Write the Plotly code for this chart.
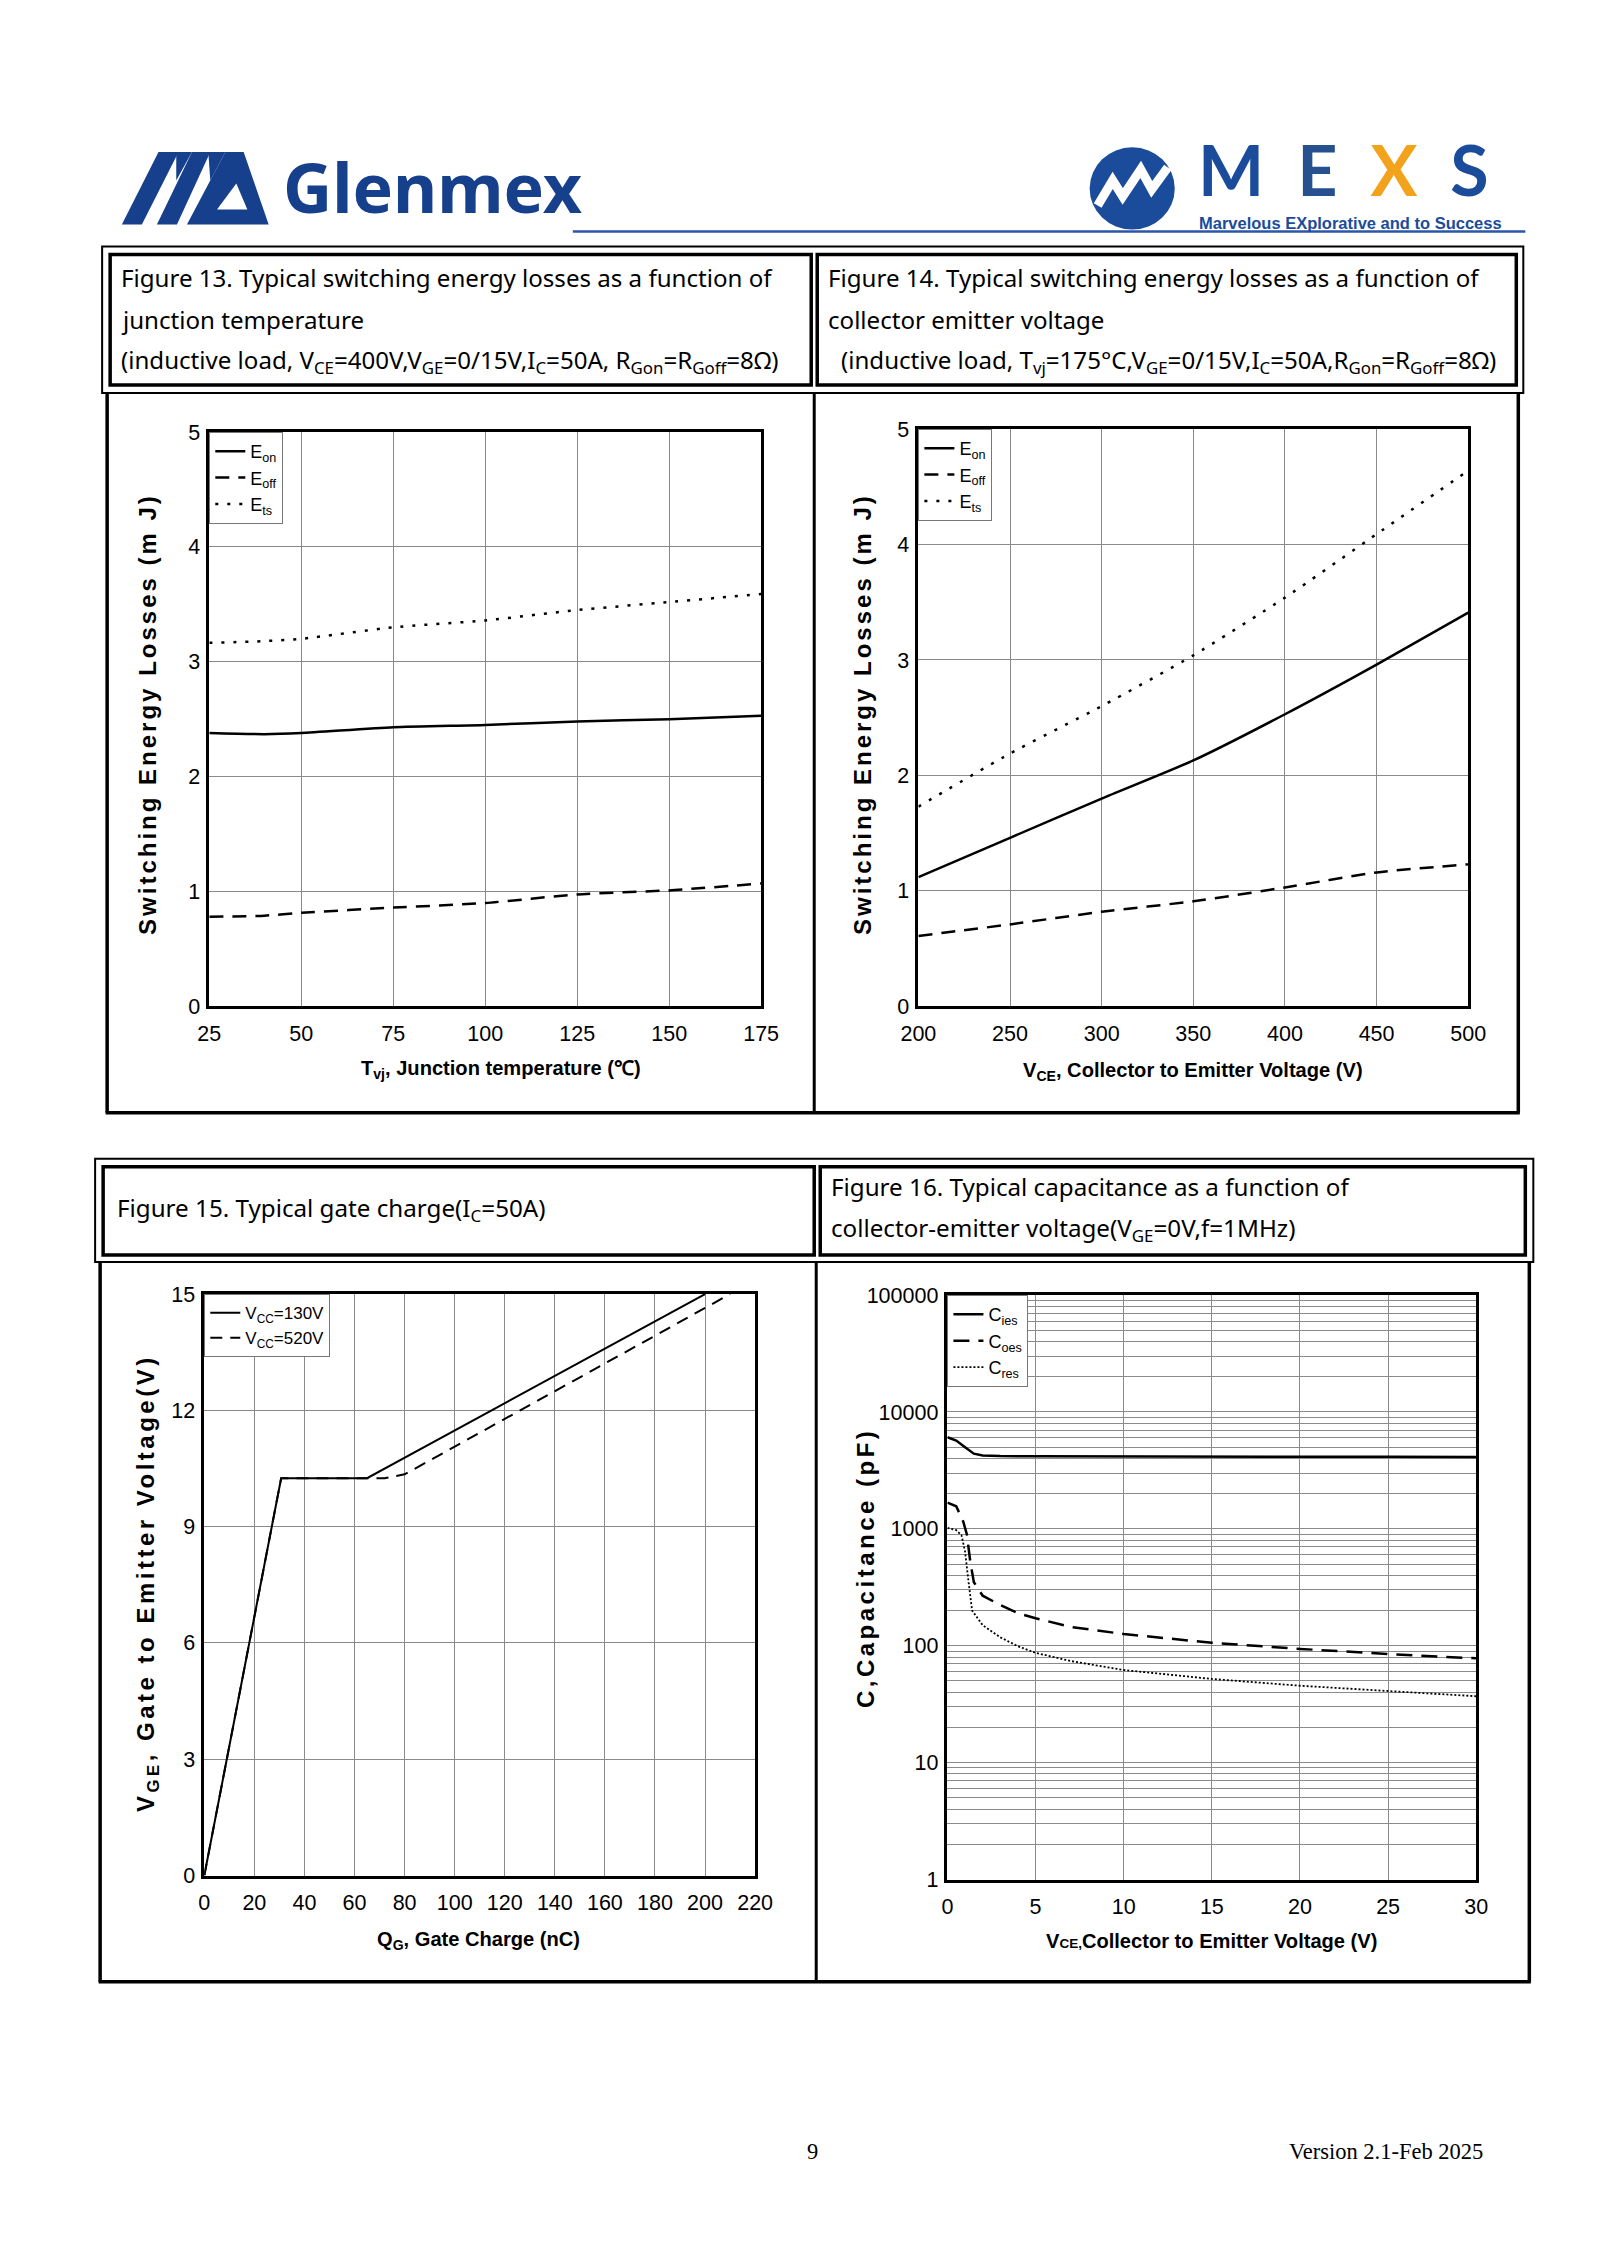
import plotly.graph_objects as go

W, H = 1600, 2263

# ---------------- data ----------------
# Figure 13: switching energy vs junction temperature
tvj = [25, 40, 50, 75, 100, 125, 150, 175]
eon_t = [2.38, 2.37, 2.38, 2.43, 2.45, 2.48, 2.50, 2.53]
eoff_t = [0.78, 0.79, 0.815, 0.86, 0.90, 0.975, 1.01, 1.07]
ets_t = [3.165, 3.18, 3.20, 3.30, 3.36, 3.45, 3.52, 3.59]

# Figure 14: switching energy vs collector-emitter voltage
vce = [200, 250, 300, 350, 400, 450, 500]
eon_v = [1.12, 1.46, 1.80, 2.13, 2.53, 2.96, 3.41]
eoff_v = [0.61, 0.71, 0.82, 0.91, 1.03, 1.16, 1.23]
ets_v = [1.73, 2.19, 2.60, 3.04, 3.54, 4.09, 4.64]

# Figure 15: gate charge
qg_130 = [0, 30.7, 65, 200]
vge_130 = [0, 10.25, 10.25, 15]
qg_520 = [0, 30.7, 72, 80, 210]
vge_520 = [0, 10.25, 10.25, 10.35, 15]

# Figure 16: capacitance
v_cies = [0, 0.5, 1, 1.5, 2, 3, 5, 10, 15, 20, 25, 30]
cies = [6080, 5700, 5000, 4400, 4250, 4200, 4180, 4150, 4150, 4140, 4140, 4130]
v_coes = [0, 0.5, 0.9, 1.1, 1.3, 1.5, 2, 3, 4, 5, 7, 10, 15, 20, 25, 30]
coes = [1680, 1560, 1150, 900, 520, 350, 268, 223, 190, 172, 145, 126, 106, 94, 85, 78]
v_cres = [0, 0.5, 0.8, 1.0, 1.2, 1.4, 2, 3, 4, 5, 7, 10, 15, 20, 25, 30]
cres = [1020, 975, 880, 640, 350, 200, 150, 118, 99, 87, 74, 62, 52, 45.5, 41, 37]

x13_ticks = [25, 50, 75, 100, 125, 150, 175]
y13_ticks = [0, 1, 2, 3, 4, 5]
x14_ticks = [200, 250, 300, 350, 400, 450, 500]
x15_ticks = list(range(0, 221, 20))
y15_ticks = [0, 3, 6, 9, 12, 15]
x16_ticks = [0, 5, 10, 15, 20, 25, 30]
y16_decades = [1, 10, 100, 1000, 10000, 100000]

# ---------------- helpers ----------------
# page positions below are reference pixels; the mapping compensates for the
# small inset/shrink observed in the rendered screenshot
AX_, BX_ = 0.976, 18.0
AY_, BY_ = 0.987, 12.0

def PX(x):
    return ((x - BX_) / AX_) / W

def PY(y):
    return 1 - ((y - BY_) / AY_) / H

TICKF = "Liberation Sans, Arial, sans-serif"
SANS = "Noto Sans, Open Sans, sans-serif"
ARIALB = "Liberation Sans, Arial, sans-serif"
SERIF = "Liberation Serif, Times New Roman, serif"
BLUE = "#163f8c"

fig = go.Figure()

def add(x, y, name, xa, ya, leg, dash, width=2.5, shape="spline"):
    fig.add_trace(go.Scatter(
        x=x, y=y, name=name, mode="lines", xaxis=xa, yaxis=ya, legend=leg,
        line=dict(color="black", width=width, dash=dash, shape=shape,
                  smoothing=0.6 if shape == "spline" else None),
        hoverinfo="skip"))

add(tvj, eon_t, "E<sub>on</sub>", "x", "y", "legend", "solid")
add(tvj, eoff_t, "E<sub>off</sub>", "x", "y", "legend", "14px,9px")
add(tvj, ets_t, "E<sub>ts</sub>", "x", "y", "legend", "3px,9px")

add(vce, eon_v, "E<sub>on</sub>", "x2", "y2", "legend2", "solid")
add(vce, eoff_v, "E<sub>off</sub>", "x2", "y2", "legend2", "14px,9px")
add(vce, ets_v, "E<sub>ts</sub>", "x2", "y2", "legend2", "3px,9px")

add(qg_130, vge_130, "V<sub>CC</sub>=130V", "x3", "y3", "legend3", "solid", 2, "linear")
add(qg_520, vge_520, "V<sub>CC</sub>=520V", "x3", "y3", "legend3", "12px,8px", 2, "linear")

add(v_cies, cies, "C<sub>ies</sub>", "x4", "y4", "legend4", "solid", 2.5, "linear")
add(v_coes, coes, "C<sub>oes</sub>", "x4", "y4", "legend4", "16px,9px", 2.5, "linear")
add(v_cres, cres, "C<sub>res</sub>", "x4", "y4", "legend4", "2px,2px", 1.8, "linear")

def axis(dom_px, rng, tickvals, anchor, vertical=False, typ="linear", ticktext=None):
    if vertical:
        dom = [PY(dom_px[1]), PY(dom_px[0])]
    else:
        dom = [PX(dom_px[0]), PX(dom_px[1])]
    d = dict(domain=dom, range=rng, tickmode="array", tickvals=tickvals,
             showgrid=True, gridcolor="#8a8a8a", gridwidth=1,
             showline=True, mirror=True, linecolor="black", linewidth=2.5,
             ticks="", zeroline=False, anchor=anchor, type=typ,
             ticklabelstandoff=2 if vertical else 6,
             tickfont=dict(family=TICKF, size=21.5, color="black"))
    if ticktext is not None:
        d["ticktext"] = ticktext
    return d

# plot boxes (reference pixels)
P13 = dict(x=(209, 760), y=(432, 1005))
P14 = dict(x=(917, 1466), y=(429, 1005))
P15 = dict(x=(204, 754), y=(1292, 1872))
P16 = dict(x=(946, 1474), y=(1293, 1876))

y16_vals = []
y16_text = []
for d in y16_decades:
    for m in range(1, 10):
        v = d * m
        if v > 100000:
            break
        y16_vals.append(v)
        y16_text.append(str(v) if m == 1 else "")

fig.update_layout(
    xaxis=axis(P13["x"], [25, 175], x13_ticks, "y"),
    yaxis=axis(P13["y"], [0, 5], y13_ticks, "x", vertical=True),
    xaxis2=axis(P14["x"], [200, 500], x14_ticks, "y2"),
    yaxis2=axis(P14["y"], [0, 5], y13_ticks, "x2", vertical=True),
    xaxis3=axis(P15["x"], [0, 220], x15_ticks, "y3"),
    yaxis3=axis(P15["y"], [0, 15], y15_ticks, "x3", vertical=True),
    xaxis4=axis(P16["x"], [0, 30], x16_ticks, "y4"),
    yaxis4=axis(P16["y"], [0, 5], y16_vals, "x4", vertical=True, typ="log", ticktext=y16_text),
)

def legend(px, py, size=18):
    return dict(x=PX(px), y=PY(py), xanchor="left", yanchor="top",
                bordercolor="#777777", borderwidth=1, bgcolor="white",
                font=dict(family=TICKF, size=size, color="black"),
                tracegroupgap=0, itemwidth=30)

fig.update_layout(
    legend=legend(P13["x"][0], P13["y"][0]),
    legend2=legend(P14["x"][0], P14["y"][0]),
    legend3=legend(P15["x"][0], P15["y"][0], 17),
    legend4=legend(P16["x"][0], P16["y"][0]),
)

shapes = []

def line(x0, y0, x1, y1, w, color="black"):
    shapes.append(dict(type="line", xref="paper", yref="paper",
                       x0=PX(x0), y0=PY(y0), x1=PX(x1), y1=PY(y1),
                       line=dict(color=color, width=w)))

def rect(x0, y0, x1, y1, w, color="black"):
    shapes.append(dict(type="rect", xref="paper", yref="paper",
                       x0=PX(x0), y0=PY(y0), x1=PX(x1), y1=PY(y1),
                       line=dict(color=color, width=w)))

def poly(points, color):
    path = "M " + " L ".join(f"{PX(a):.5f},{PY(b):.5f}" for a, b in points) + " Z"
    shapes.append(dict(type="path", xref="paper", yref="paper", path=path,
                       fillcolor=color, line=dict(width=0)))

# top table
rect(102, 247, 1521, 393, 2)
rect(110, 255, 810, 385, 3.5)
rect(816, 255, 1514, 385, 3.5)
line(107, 393, 107, 1111, 3.5)
line(1516, 393, 1516, 1111, 3.5)
line(105.5, 1111, 1517.5, 1111, 3.5)
line(813, 393, 813, 1111, 3)

# bottom table
rect(95, 1157, 1531, 1260, 2)
rect(103, 1165, 813, 1253, 3.5)
rect(819, 1165, 1523, 1253, 3.5)
line(100, 1260, 100, 1978, 3.5)
line(1527, 1260, 1527, 1978, 3.5)
line(98.5, 1978, 1528.5, 1978, 3.5)
line(815, 1260, 815, 1978, 3)

# header: blue rule
line(572, 232, 1523, 232, 2.5, "#2a56a8")

# Glenmex icon (M legs with notches, then the G wedge)
poly([(121.7, 225), (141.7, 225), (178.3, 152.7), (158.3, 152.7)], BLUE)
poly([(176, 152.7), (191.7, 152.7), (176, 181)], BLUE)
poly([(156.7, 225), (176.7, 225), (210, 152.7), (191.7, 152.7)], BLUE)
poly([(208, 152.7), (225, 152.7), (210, 181)], BLUE)
poly([(186.7, 225), (268.3, 225), (243.3, 152.7), (225, 152.7)], BLUE)
poly([(216.7, 210), (247, 210), (236, 184)], "white")

# MEXS roundel
shapes.append(dict(type="circle", xref="paper", yref="paper",
                   x0=PX(1088), x1=PX(1173), y0=PY(230), y1=PY(148),
                   fillcolor="#1b4b9b", line=dict(width=0)))
zig = [(1096, 206), (1111, 181), (1121, 197), (1139, 170), (1150, 190), (1166, 168)]
shapes.append(dict(type="path", xref="paper", yref="paper",
                   path="M " + " L ".join(f"{PX(a):.5f},{PY(b):.5f}" for a, b in zig),
                   line=dict(color="white", width=9)))

fig.update_layout(shapes=shapes)

ann = []

def text(x, y, s, size, family, xanchor="left", yanchor="middle", color="black",
         angle=0, bold=False):
    ann.append(dict(x=PX(x), y=PY(y), xref="paper", yref="paper", text=s,
                    showarrow=False, xanchor=xanchor, yanchor=yanchor,
                    textangle=angle,
                    font=dict(size=size, family=family, color=color,
                              weight="bold" if bold else "normal")))

# header text
text(281, 187, "Glenmex", 68, SANS, color=BLUE, bold=True)
text(1194, 214,
     "<span style='letter-spacing:33px'>M<span style='color:#27508f'>E</span>"
     "<span style='color:#f2a21b'>X</span>S</span>",
     70, "Lato, DejaVu Sans, sans-serif", color="#1b4b9b", yanchor="bottom", bold=True)
text(1195, 223.5, "Marvelous EXplorative and to Success", 16.5, ARIALB, color="#1b4b9b", bold=True)

# figure titles
T1 = 24.1
text(119, 278, "Figure 13. Typical switching energy losses as a function of", T1, SANS)
text(119, 320, "junction temperature", T1, SANS)
text(119, 361, "(inductive load, V<sub>CE</sub>=400V,V<sub>GE</sub>=0/15V,I<sub>C</sub>=50A, "
     "R<sub>Gon</sub>=R<sub>Goff</sub>=8Ω)", T1, SANS)
text(825, 278, "Figure 14. Typical switching energy losses as a function of", T1, SANS)
text(825, 320, "collector emitter voltage", T1, SANS)
text(838, 361, "(inductive load, T<sub>vj</sub>=175°C,V<sub>GE</sub>=0/15V,I<sub>C</sub>=50A,"
     "R<sub>Gon</sub>=R<sub>Goff</sub>=8Ω)", T1, SANS)
T2 = 24.2
text(115, 1207, "Figure 15. Typical gate charge(I<sub>C</sub>=50A)", T2, SANS)
text(828, 1185, "Figure 16. Typical capacitance as a function of", T2, SANS)
text(828, 1227, "collector-emitter voltage(V<sub>GE</sub>=0V,f=1MHz)", T2, SANS)

# axis titles
SP3 = "<span style='letter-spacing:3px'>{}</span>"
SP35 = "<span style='letter-spacing:3.5px'>{}</span>"
text(148, 713, SP3.format("Switching Energy Losses (m J)"), 24, ARIALB,
     xanchor="center", angle=-90, bold=True)
text(861, 713, SP3.format("Switching Energy Losses (m J)"), 24, ARIALB,
     xanchor="center", angle=-90, bold=True)
text(148, 1580, SP35.format("V<sub>GE</sub>, Gate to Emitter Voltage(V)"), 24, ARIALB,
     xanchor="center", angle=-90, bold=True)
text(864, 1565, SP35.format("C,Capacitance (pF)"), 24, ARIALB,
     xanchor="center", angle=-90, bold=True)

AX = 20.1
text(500, 1068, "T<sub>vj</sub>, Junction temperature (℃)", AX, ARIALB, xanchor="center", bold=True)
text(1191, 1070, "V<sub>CE</sub>, Collector to Emitter Voltage (V)", AX, ARIALB, xanchor="center", bold=True)
text(478, 1937, "Q<sub>G</sub>, Gate Charge (nC)", AX, ARIALB, xanchor="center", bold=True)
text(1210, 1937, "V<span style='font-size:13.5px'>CE,</span>Collector to Emitter Voltage (V)", AX,
     ARIALB, xanchor="center", bold=True)

# footer
text(811, 2147, "9", 22.5, SERIF, xanchor="center")
text(1483, 2147, "Version 2.1-Feb 2025", 22.5, SERIF, xanchor="right")

fig.update_layout(
    annotations=ann,
    width=W, height=H,
    margin=dict(l=0, r=0, t=0, b=0),
    paper_bgcolor="white", plot_bgcolor="white",
    showlegend=True,
)

fig.write_html("out.html", config={"displayModeBar": False},
               post_script="document.body.style.margin='0px';document.body.style.padding='0px';")
